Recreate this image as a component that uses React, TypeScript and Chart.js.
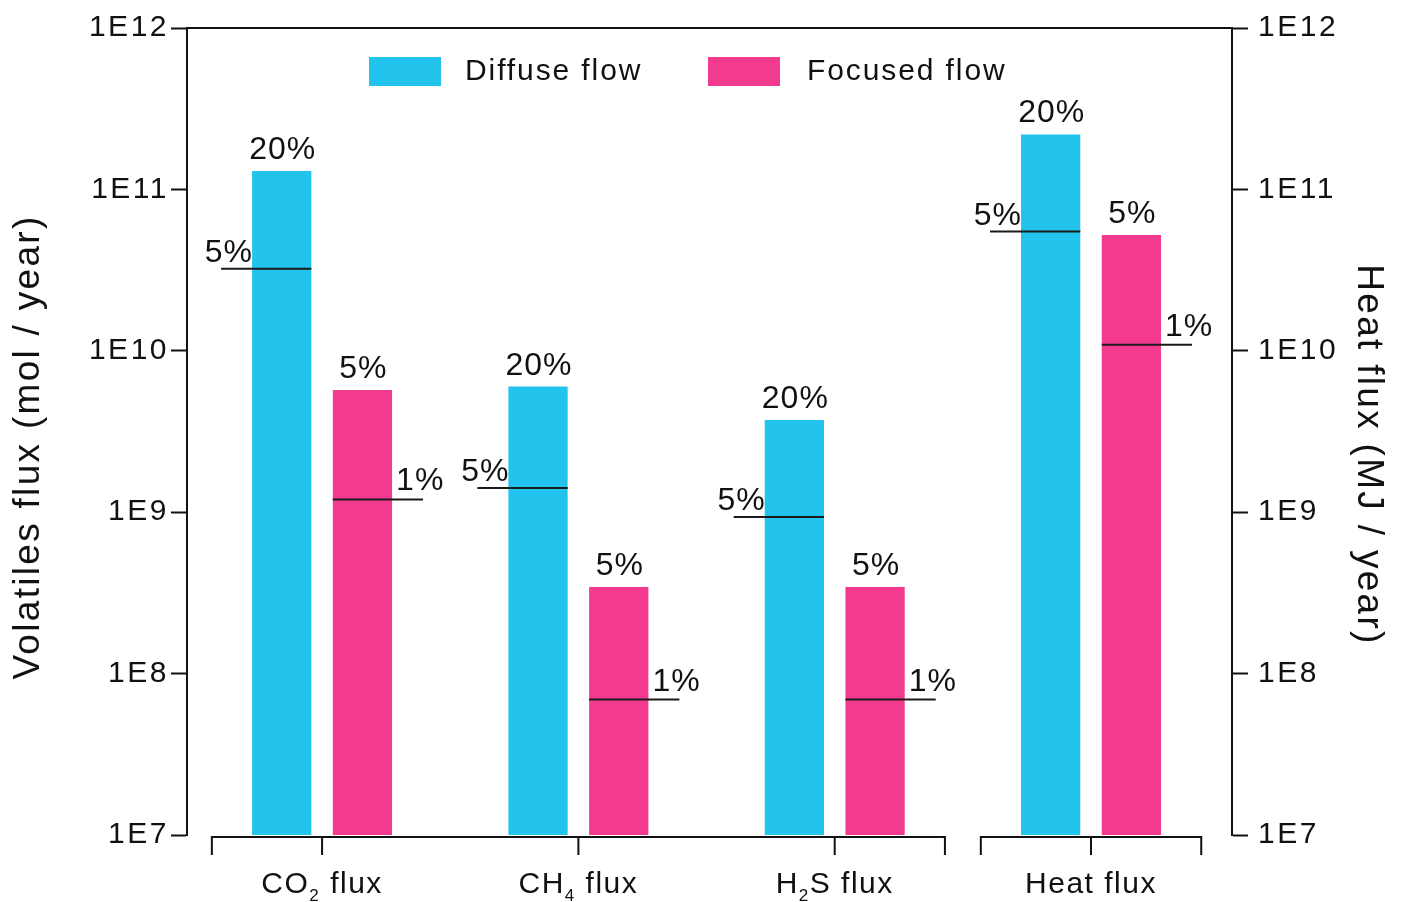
import React, { useEffect, useRef } from 'react';
import { Chart, registerables } from 'chart.js';

Chart.register(...registerables);

// ---------- data ----------
const categories = ['CO₂ flux', 'CH₄ flux', 'H₂S flux', 'Heat flux'];
const categoryPositions = [0, 1, 2, 3];
const diffuseFlow = [1.3e11, 6.0e9, 3.73e9, 2.19e11];
const focusedFlow = [5.71e9, 3.44e8, 3.44e8, 5.22e10];
const diffuseMarker = [3.22e10, 1.41e9, 9.35e8, 5.48e10];
const focusedMarker = [1.2e9, 6.9e7, 6.9e7, 1.09e10];
const diffuseTopLabel = '20%';
const focusedTopLabel = '5%';
const diffuseMarkerLabel = '5%';
const focusedMarkerLabel = '1%';
const yTickValues = [1e7, 1e8, 1e9, 1e10, 1e11, 1e12];
const yTickLabels = ['1E7', '1E8', '1E9', '1E10', '1E11', '1E12'];
const bracketGroups = [[0, 2], [3, 3]];
const seriesNames = ['Diffuse flow', 'Focused flow'];
const leftTitle = 'Volatiles flux (mol / year)';
const rightTitle = 'Heat flux (MJ / year)';

// ---------- style ----------
const FONT = '"Liberation Sans", Arial, Helvetica, sans-serif';
const CYAN = '#22C4EE';
const PINK = '#F23A8F';
const INK = '#111111';

const SUBS: Record<string, string> = {
  '₀': '0', '₁': '1', '₂': '2', '₃': '3', '₄': '4', '₅': '5', '₆': '6', '₇': '7', '₈': '8', '₉': '9',
};

function drawRich(ctx: CanvasRenderingContext2D, text: string, cx: number, baseline: number, size: number, spacing: number) {
  const parts: { t: string; sub: boolean }[] = [];
  for (const ch of text) {
    const sub = ch in SUBS;
    const c = sub ? SUBS[ch] : ch;
    const last = parts[parts.length - 1];
    if (last && last.sub === sub) last.t += c;
    else parts.push({ t: c, sub });
  }
  const subSize = Math.round(size * 0.58);
  ctx.save();
  (ctx as any).letterSpacing = spacing + 'px';
  ctx.textAlign = 'left';
  ctx.textBaseline = 'alphabetic';
  const widths = parts.map((p) => {
    ctx.font = `${p.sub ? subSize : size}px ${FONT}`;
    return ctx.measureText(p.t).width;
  });
  const total = widths.reduce((a, b) => a + b, 0);
  let x = cx - total / 2;
  parts.forEach((p, i) => {
    ctx.font = `${p.sub ? subSize : size}px ${FONT}`;
    ctx.fillText(p.t, x, baseline + (p.sub ? size * 0.28 : 0));
    x += widths[i];
  });
  ctx.restore();
}

function txt(ctx: CanvasRenderingContext2D, s: string, x: number, y: number, size: number, spacing: number, align: CanvasTextAlign, base: CanvasTextBaseline = 'alphabetic') {
  ctx.save();
  (ctx as any).letterSpacing = spacing + 'px';
  ctx.font = `${size}px ${FONT}`;
  ctx.fillStyle = INK;
  ctx.textAlign = align;
  ctx.textBaseline = base;
  ctx.fillText(s, x, y);
  ctx.restore();
}

const decorPlugin = {
  id: 'decor',
  beforeUpdate(chart: any) {
    chart.ctx.letterSpacing = '2.5px';
  },
  beforeDraw(chart: any) {
    chart.ctx.letterSpacing = '2.5px';
  },
  afterDatasetsDraw(chart: any) {
    const ctx: CanvasRenderingContext2D = chart.ctx;
    const y = chart.scales.y;
    const dMeta = chart.getDatasetMeta(0);
    const fMeta = chart.getDatasetMeta(1);
    ctx.save();
    ctx.strokeStyle = '#1a1a1a';
    ctx.lineWidth = 2;
    ctx.fillStyle = INK;
    categories.forEach((_, i) => {
      const db = dMeta.data[i];
      const fb = fMeta.data[i];
      const dw = db.width;
      const fw = fb.width;
      const dy = y.getPixelForValue(diffuseMarker[i]);
      ctx.beginPath();
      ctx.moveTo(db.x - dw / 2 - 31, dy);
      ctx.lineTo(db.x + dw / 2, dy);
      ctx.stroke();
      txt(ctx, diffuseMarkerLabel, db.x - dw / 2 + 1, dy - 7, 32, 1, 'right');
      const fy = y.getPixelForValue(focusedMarker[i]);
      ctx.beginPath();
      ctx.moveTo(fb.x - fw / 2, fy);
      ctx.lineTo(fb.x + fw / 2 + 31, fy);
      ctx.stroke();
      txt(ctx, focusedMarkerLabel, fb.x + fw / 2 + 4, fy - 9, 32, 1, 'left');
      txt(ctx, diffuseTopLabel, db.x + 1, db.y - 12, 32, 1, 'center');
      txt(ctx, focusedTopLabel, fb.x + 1, fb.y - 12, 32, 1, 'center');
    });
    ctx.restore();
  },
  afterDraw(chart: any) {
    const ctx: CanvasRenderingContext2D = chart.ctx;
    const a = chart.chartArea;
    const x = chart.scales.x;
    ctx.save();
    ctx.strokeStyle = INK;
    ctx.lineWidth = 2;
    ctx.beginPath();
    ctx.moveTo(a.left, a.top);
    ctx.lineTo(a.right, a.top);
    ctx.stroke();
    const by = a.bottom + 2;
    const tickLen = 18;
    bracketGroups.forEach(([s, e]) => {
      const x0 = x.getPixelForValue(categoryPositions[s] - 0.43);
      const x1 = x.getPixelForValue(categoryPositions[e] + 0.43);
      ctx.beginPath();
      ctx.moveTo(x0, by + tickLen);
      ctx.lineTo(x0, by);
      ctx.lineTo(x1, by);
      ctx.lineTo(x1, by + tickLen);
      ctx.stroke();
      for (let k = s; k <= e; k++) {
        const cx = x.getPixelForValue(categoryPositions[k]);
        ctx.beginPath();
        ctx.moveTo(cx, by);
        ctx.lineTo(cx, by + tickLen);
        ctx.stroke();
      }
    });
    ctx.fillStyle = INK;
    categories.forEach((c, k) => {
      const cx = x.getPixelForValue(categoryPositions[k]);
      drawRich(ctx, c, cx, 893, 30, 1.5);
    });
    const legend = [
      { box: 369, text: 465, color: CYAN, name: seriesNames[0] },
      { box: 708, text: 807, color: PINK, name: seriesNames[1] },
    ];
    legend.forEach((l) => {
      ctx.fillStyle = l.color;
      ctx.fillRect(l.box, 57, 72, 29);
      txt(ctx, l.name, l.text, 72, 30, 1.9, 'left', 'middle');
    });
    ctx.save();
    ctx.translate(29, 447);
    ctx.rotate(-Math.PI / 2);
    txt(ctx, leftTitle, 0, 0, 37, 2.3, 'center', 'middle');
    ctx.restore();
    ctx.save();
    ctx.translate(1368, 455);
    ctx.rotate(Math.PI / 2);
    txt(ctx, rightTitle, 0, 0, 37, 2.3, 'center', 'middle');
    ctx.restore();
    ctx.restore();
  },
};

function tickLabel(v: number) {
  const idx = yTickValues.findIndex((t) => Math.abs(Math.log10(t) - Math.log10(v)) < 1e-6);
  return idx >= 0 ? yTickLabels[idx] : '';
}

const yAxisCommon = (position: 'left' | 'right', width: number, padding: number) => ({
  type: 'logarithmic' as const,
  position,
  min: 1e7,
  max: 1e12,
  afterBuildTicks: (s: any) => {
    s.ticks = yTickValues.map((v) => ({ value: v }));
  },
  afterFit: (s: any) => {
    s.width = width;
  },
  ticks: {
    callback: (v: any) => tickLabel(Number(v)),
    font: { size: 30, family: FONT },
    color: INK,
    padding,
    autoSkip: false,
    maxRotation: 0,
  },
  grid: {
    drawOnChartArea: false,
    drawTicks: true,
    tickLength: 16,
    tickWidth: 2,
    tickColor: INK,
  },
  border: { display: true, color: INK, width: 2 },
});

export default function App() {
  const ref = useRef<HTMLCanvasElement | null>(null);
  useEffect(() => {
    if (!ref.current) return;
    const chart = new Chart(ref.current, {
      type: 'bar',
      data: {
        datasets: [
          {
            label: seriesNames[0],
            data: categoryPositions.map((p, i) => ({ x: p, y: diffuseFlow[i] })),
            backgroundColor: CYAN,
            borderWidth: 0,
            yAxisID: 'y',
          },
          {
            label: seriesNames[1],
            data: categoryPositions.map((p, i) => ({ x: p, y: focusedFlow[i] })),
            backgroundColor: PINK,
            borderWidth: 0,
            yAxisID: 'y',
          },
        ],
      },
      options: {
        responsive: false,
        animation: false,
        events: [],
        layout: { padding: { top: 25, bottom: 67, left: 0, right: 0 } },
        datasets: {
          bar: { categoryPercentage: 0.63, barPercentage: 0.734 },
        } as any,
        scales: {
          x: {
            type: 'linear',
            display: false,
            offset: false,
            min: -0.527,
            max: 3.55,
            afterBuildTicks: (s: any) => {
              s.ticks = categoryPositions.map((v) => ({ value: v }));
            },
          },
          y: yAxisCommon('left', 187, 2) as any,
          y2: yAxisCommon('right', 175, 10) as any,
        },
        plugins: {
          legend: { display: false },
          tooltip: { enabled: false },
        },
      },
      plugins: [decorPlugin],
    });
    return () => chart.destroy();
  }, []);
  return (
    <div style={{ position: 'fixed', left: 0, top: 0, width: 1407, height: 902, background: '#fff' }}>
      <canvas ref={ref} width={1407} height={902} style={{ display: 'block', width: 1407, height: 902 }} />
    </div>
  );
}
